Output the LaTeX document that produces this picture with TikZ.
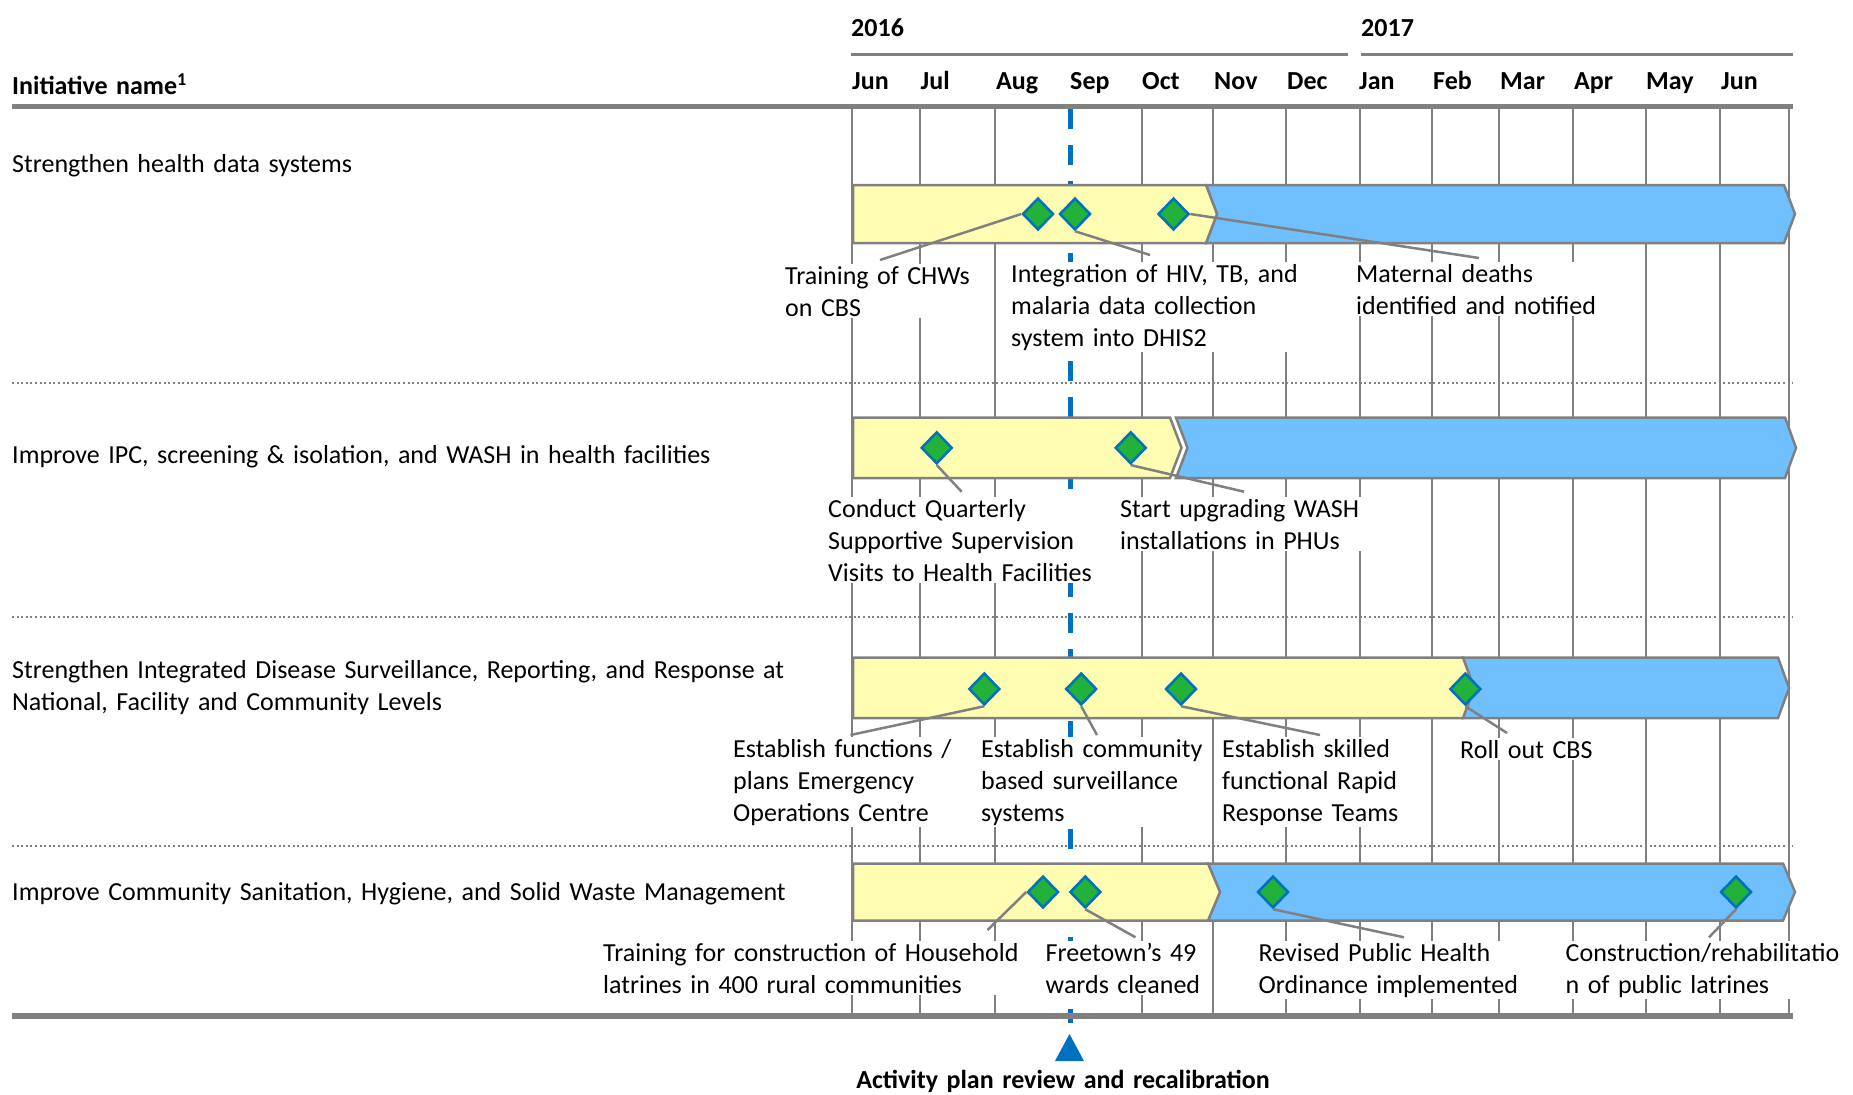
\documentclass[tikz,border=0pt]{standalone}
\usepackage{fontspec}
\setmainfont{Carlito}[WordSpace=1.45]
\usetikzlibrary{shapes.geometric}
\definecolor{gridgray}{RGB}{128,128,128}
\definecolor{baryellow}{RGB}{255,253,178}
\definecolor{barblue}{RGB}{112,192,255}
\definecolor{msgreen}{RGB}{34,177,57}
\definecolor{msblue}{RGB}{0,112,192}
\tikzset{
  lbl/.style={font=\fontsize{26}{32}\selectfont, align=left, anchor=base west, inner sep=2pt, fill=white},
  rowlbl/.style={font=\fontsize{26}{32}\selectfont, align=left, anchor=base west, inner sep=0pt},
  hdr/.style={font=\fontsize{26}{32}\selectfont\bfseries, anchor=base west, inner sep=0pt},
  ms/.style={diamond, draw=msblue, fill=msgreen, line width=2.5pt, minimum width=31pt, minimum height=32pt, inner sep=0pt},
  lead/.style={draw=gridgray, line width=2.5pt},
  yelbar/.style={draw=gridgray, fill=baryellow, line width=2.5pt},
  bluebar/.style={draw=gridgray, fill=barblue, line width=2.5pt},
  gridln/.style={draw=gridgray, line width=2.2pt},
  thickln/.style={draw=gridgray, line width=5.5pt},
  yearln/.style={draw=gridgray, line width=3pt},
  sepln/.style={draw=gridgray, line width=2pt, dash pattern=on 2pt off 2.6pt},
  reviewln/.style={draw=msblue, line width=5pt, dash pattern=on 20pt off 16pt},
}
\begin{document}
\begin{tikzpicture}[x=1pt,y=-1pt]
\useasboundingbox (0,0) rectangle (1853,1095);

% header
\node[hdr] (y16) at (851,36.5) {2016};
\node[hdr] (y17) at (1361,36.5) {2017};
\coordinate (y16a) at (851,54.5); \coordinate (y16b) at (1348,54.5);
\coordinate (y17a) at (1361,54.5); \coordinate (y17b) at (1793,54.5);
\draw[yearln] (y16a) -- (y16b);
\draw[yearln] (y17a) -- (y17b);
\node[hdr] (inh) at (12,94.5) {Initiative name\textsuperscript{1}};
\foreach \m/\x [count=\i] in {Jun/852,Jul/920.5,Aug/996,Sep/1070,Oct/1142,Nov/1214,Dec/1287,Jan/1359,Feb/1433,Mar/1500,Apr/1574,May/1646,Jun/1721}
  \node[hdr] (m\i) at (\x,89.5) {\m};

% gridlines
\foreach \x [count=\i] in {852,920,995,1142,1213,1286,1360,1432,1499,1573,1646,1720,1789}
  {\coordinate (gt\i) at (\x,108); \coordinate (gb\i) at (\x,1014);
   \draw[gridln] (gt\i) -- (gb\i);}

% separators
\foreach \y [count=\i] in {383,617,846}
  {\coordinate (sl\i) at (12,\y); \coordinate (sr\i) at (1793,\y);
   \draw[sepln] (sl\i) -- (sr\i);}

% review line
\coordinate (rvt) at (1070.5,109);
\coordinate (rvb) at (1070.5,1023);
\draw[reviewln] (rvt) -- (rvb);

% thick lines
\coordinate (hl) at (12,106.4); \coordinate (hr) at (1793,106.4);
\coordinate (bl) at (12,1016); \coordinate (br) at (1793,1016);
\draw[thickln] (hl) -- (hr);
\draw[thickln] (bl) -- (br);

% row labels (anchor = baseline of last line)
\node[rowlbl] (r1) at (12,172) {Strengthen health data systems};
\node[rowlbl] (r2) at (12,463) {Improve IPC, screening \& isolation, and WASH in health facilities};
\node[rowlbl] (r3) at (12,710) {Strengthen Integrated Disease Surveillance, Reporting, and Response at\\National, Facility and Community Levels};
\node[rowlbl] (r4) at (12,900) {Improve Community Sanitation, Hygiene, and Solid Waste Management};

% bars row 1
\draw[bluebar] (1206,185) -- (1784,185) -- (1795,214) -- (1784,243) -- (1206,243) -- (1217,214) -- cycle;
\draw[yelbar] (853,185) -- (1206,185) -- (1217,214) -- (1206,243) -- (853,243) -- cycle;
% row 2
\draw[bluebar] (1176,417.5) -- (1785,417.5) -- (1796,447.8) -- (1785,478) -- (1176,478) -- (1187.5,447.8) -- cycle;
\draw[yelbar] (853,417.5) -- (1170,417.5) -- (1181.5,447.8) -- (1170,478) -- (853,478) -- cycle;
% row 3
\draw[bluebar] (1463,657.5) -- (1778,657.5) -- (1789,688) -- (1778,718) -- (1463,718) -- (1474,688) -- cycle;
\draw[yelbar] (853,657.5) -- (1463,657.5) -- (1474,688) -- (1463,718) -- (853,718) -- cycle;
% row 4
\draw[bluebar] (1208,863.5) -- (1783,863.5) -- (1795,892) -- (1783,920.5) -- (1208,920.5) -- (1220,892) -- cycle;
\draw[yelbar] (853,863.5) -- (1208,863.5) -- (1220,892) -- (1208,920.5) -- (853,920.5) -- cycle;

% milestone labels (anchor = baseline of last line)
\node[lbl] (t11) at (783,316) {Training of CHWs\\on CBS};
\node[lbl] (t12) at (1009,346) {Integration of HIV, TB, and\\malaria data collection\\system into DHIS2};
\node[lbl] (t13) at (1354,314) {Maternal deaths\\identified and notified};
\node[lbl] (t21) at (826,581) {Conduct Quarterly\\Supportive Supervision\\Visits to Health Facilities};
\node[lbl] (t22) at (1118,549) {Start upgrading WASH\\installations in PHUs};
\node[lbl] (t31) at (731,821) {Establish functions /\\plans Emergency\\Operations Centre};
\node[lbl] (t32) at (979,821) {Establish community\\based surveillance\\systems};
\node[lbl] (t33) at (1220,821) {Establish skilled\\functional Rapid\\Response Teams};
\node[lbl] (t34) at (1458,758) {Roll out CBS};
\node[lbl] (t41) at (601,993) {Training for construction of Household\\latrines in 400 rural communities};
\node[lbl] (t42) at (1043.5,993) {Freetown’s 49\\wards cleaned};
\node[lbl] (t43) at (1256.5,993) {Revised Public Health\\Ordinance implemented};
\node[lbl] (t44) at (1563.5,993) {Construction/rehabilitatio\\n of public latrines};

% leader end points
\coordinate (e11) at (880,260);
\coordinate (e12) at (1150,255);
\coordinate (e13) at (1479,258);
\coordinate (e21) at (961.6,491.7);
\coordinate (e22) at (1244,491.7);
\coordinate (e31) at (850.5,735);
\coordinate (e32) at (1097,735);
\coordinate (e33) at (1320,735);
\coordinate (e34) at (1507,733);
\coordinate (e41) at (987.5,930);
\coordinate (e42) at (1135.5,937.3);
\coordinate (e43) at (1404,937.3);
\coordinate (e44) at (1709,937.3);

% milestones
\node[ms] (d11) at (1038,214) {};
\node[ms] (d12) at (1075,214) {};
\node[ms] (d13) at (1173.5,214) {};
\node[ms] (d21) at (936.7,447.8) {};
\node[ms] (d22) at (1130.7,447.8) {};
\node[ms] (d31) at (984.3,689) {};
\node[ms] (d32) at (1081.2,689) {};
\node[ms] (d33) at (1181,689) {};
\node[ms] (d34) at (1465.3,689) {};
\node[ms] (d41) at (1043,892) {};
\node[ms] (d42) at (1085.3,892) {};
\node[ms] (d43) at (1273,892) {};
\node[ms] (d44) at (1736,892) {};

% leaders
\draw[lead] (d11.west) -- (e11);
\draw[lead] (d12.south) -- (e12);
\draw[lead] (d13.east) -- (e13);
\draw[lead] (d21.south) -- (e21);
\draw[lead] (d22.south) -- (e22);
\draw[lead] (d31.south) -- (e31);
\draw[lead] (d32.south) -- (e32);
\draw[lead] (d33.south) -- (e33);
\draw[lead] (d34.south) -- (e34);
\draw[lead] (d41.west) -- (e41);
\draw[lead] (d42.south) -- (e42);
\draw[lead] (d43.south) -- (e43);
\draw[lead] (d44.south) -- (e44);

% review marker
\fill[msblue] (1069.5,1034) -- (1084,1061) -- (1055,1061) -- cycle;
\node[hdr, anchor=base] (rev) at (1063,1088) {Activity plan review and recalibration};
\end{tikzpicture}
\end{document}
